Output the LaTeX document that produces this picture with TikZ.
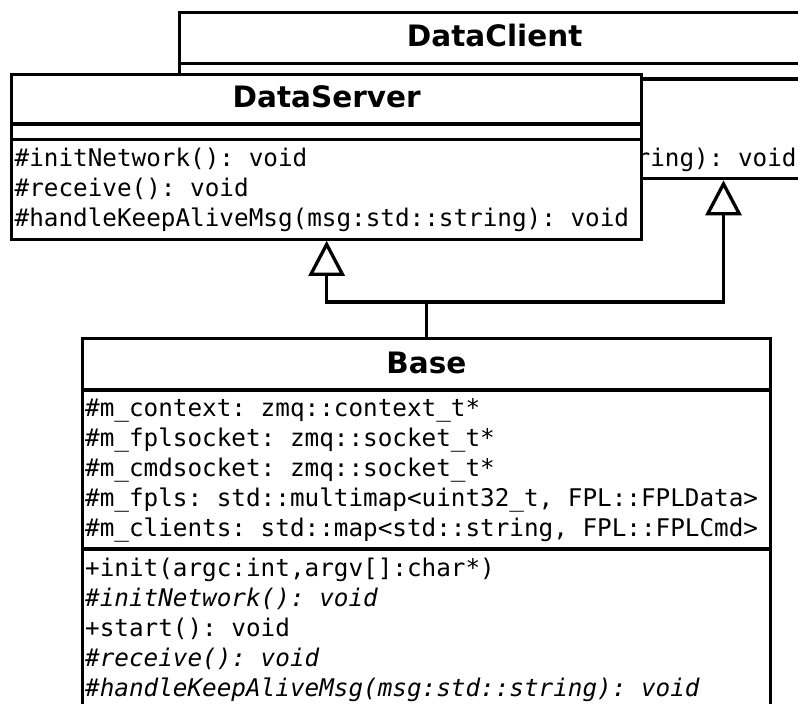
\documentclass[tikz,border=0pt]{standalone}
\usepackage{fontspec}
\setmainfont{DejaVu Sans}
\setmonofont{DejaVu Sans Mono}
\usetikzlibrary{arrows.meta,calc}

\tikzset{
  umlbox/.style={draw, line width=3.3pt, fill=white, rectangle, inner sep=0pt, anchor=north west},
  umlsep/.style={line width=3.3pt},
  umltitle/.style={font=\fontsize{29.5}{30}\selectfont\bfseries, anchor=base, inner sep=0pt},
  umlmember/.style={font=\fontsize{24.3}{30}\selectfont\ttfamily, anchor=base west, inner sep=0pt},
  inherit/.style={line width=3.3pt, -{Triangle[open, length=35pt, width=36pt]}}
}

\begin{document}
\begin{tikzpicture}[x=1pt,y=-1pt]
    \def\rowh{30}
    \useasboundingbox (0,0) rectangle (798,704);
    \clip (0,0) rectangle (798,704);
    % DataClient, mostly hidden behind DataServer
    \node [umlbox, minimum width=630pt, minimum height=166pt] (client) at (178,11) {};
    \foreach \y in {63.5,79}
      \draw [umlsep] (client.west |- 0,\y) -- (client.east |- 0,\y);
    \node [umltitle] (clienttitle) at (client.north |- 0,46.5) {DataClient};
    \node [umlmember] (clientm3) at (182,166.5) {\#handleKeepAliveMsg(msg:std::string): void};
    % DataServer
    \node [umlbox, minimum width=630pt, minimum height=165pt] (server) at (10,72.5) {};
    \foreach \y in {124,139.5}
      \draw [umlsep] (server.west |- 0,\y) -- (server.east |- 0,\y);
    \node [umltitle] (servertitle) at (server.north |- 0,107.5) {DataServer};
    \foreach \txt [count=\i] in {
        {\#initNetwork(): void},
        {\#receive(): void},
        {\#handleKeepAliveMsg(msg:std::string): void}}
      \node [umlmember] (serverm\i) at (14.5,136.5+\rowh*\i) {\txt};
    % Base
    \node [umlbox, minimum width=688.5pt, minimum height=420pt] (base) at (80.5,337) {};
    \foreach \y in {390,549}
      \draw [umlsep] (base.west |- 0,\y) -- (base.east |- 0,\y);
    \node [umltitle] (basetitle) at (base.north |- 0,373) {Base};
    % attributes
    \foreach \txt [count=\i] in {
        {\#m\_context: zmq::context\_t*},
        {\#m\_fplsocket: zmq::socket\_t*},
        {\#m\_cmdsocket: zmq::socket\_t*},
        {\#m\_fpls: std::multimap<uint32\_t, FPL::FPLData>},
        {\#m\_clients: std::map<std::string, FPL::FPLCmd>}}
      \node [umlmember] (basea\i) at (85,386+\rowh*\i) {\txt};
    % operations
    \foreach \txt [count=\i] in {
        {+init(argc:int,argv[]:char*)},
        {\itshape\#initNetwork(): void},
        {+start(): void},
        {\itshape\#receive(): void},
        {\itshape\#handleKeepAliveMsg(msg:std::string): void}}
      \node [umlmember] (basem\i) at (85,546+\rowh*\i) {\txt};
    % generalisation
    \coordinate (fork) at (base.north |- 0,302);
    \coordinate (clientfoot) at ($(client.south west)+(545.5,0)$);
    \draw [inherit] (base.north) -- (fork) -| (server.south);
    \draw [inherit] (fork) -| (clientfoot);
\end{tikzpicture}
\end{document}
